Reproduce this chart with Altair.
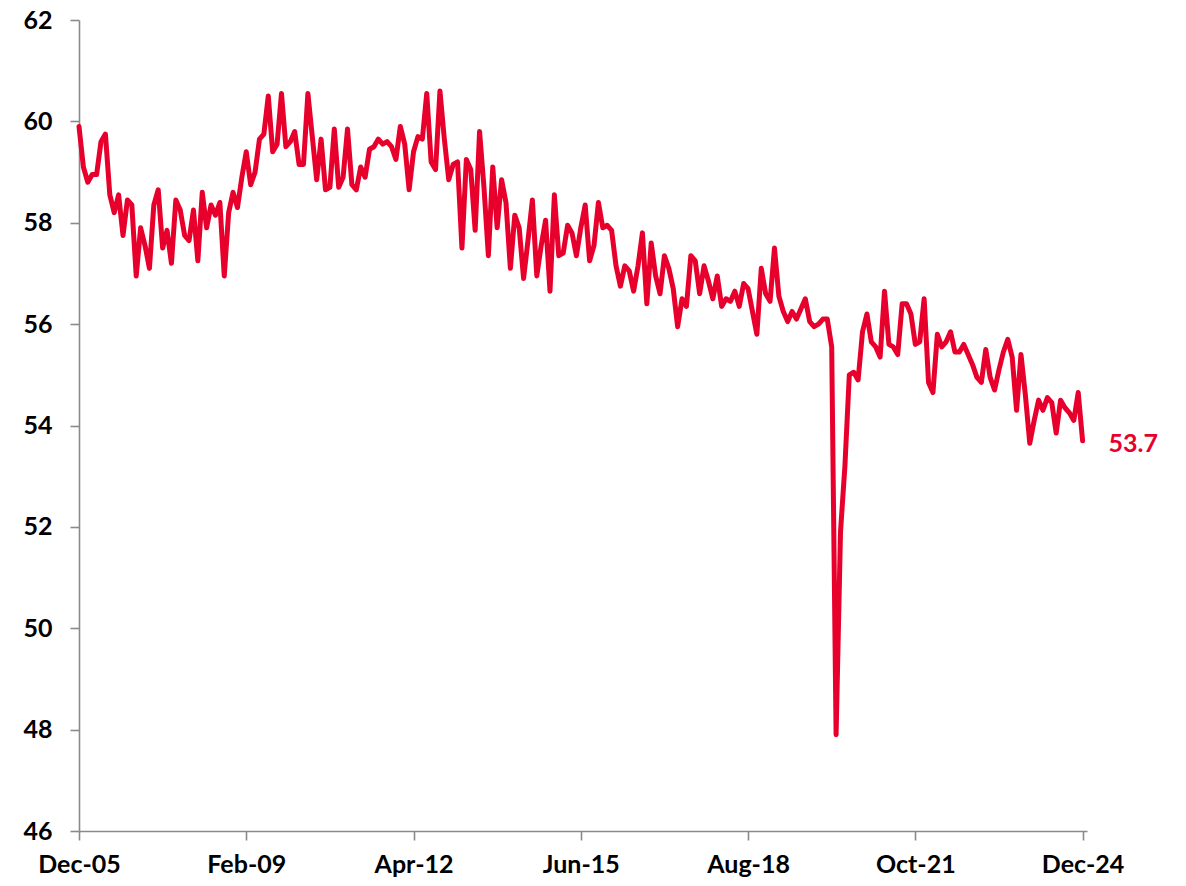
import altair as alt
import pandas as pd

# Monthly series, Dec-05 .. Dec-24 (229 months)
values = [
    59.9, 59.1, 58.8, 58.95, 58.95, 59.6, 59.75, 58.55, 58.2, 58.55,
    57.75, 58.45, 58.35, 56.95, 57.9, 57.55, 57.1, 58.35, 58.65, 57.5,
    57.85, 57.2, 58.45, 58.25, 57.75, 57.65, 58.25, 57.25, 58.6, 57.9,
    58.35, 58.15, 58.4, 56.95, 58.2, 58.6, 58.3, 58.9, 59.4, 58.75,
    59.0, 59.65, 59.75, 60.5, 59.4, 59.55, 60.55, 59.5, 59.6, 59.8,
    59.15, 59.15, 60.55, 59.7, 58.85, 59.65, 58.65, 58.7, 59.85, 58.7,
    58.9, 59.85, 58.75, 58.65, 59.1, 58.9, 59.45, 59.5, 59.65, 59.55,
    59.6, 59.5, 59.25, 59.9, 59.55, 58.65, 59.4, 59.7, 59.65, 60.55,
    59.2, 59.05, 60.6, 59.65, 58.85, 59.15, 59.2, 57.5, 59.25, 59.05,
    57.85, 59.8, 58.7, 57.35, 59.1, 57.9, 58.85, 58.4, 57.1, 58.15,
    57.9, 56.9, 57.65, 58.45, 56.95, 57.55, 58.05, 56.65, 58.55, 57.35,
    57.4, 57.95, 57.8, 57.35, 57.9, 58.35, 57.25, 57.55, 58.4, 57.9,
    57.95, 57.85, 57.15, 56.75, 57.15, 57.05, 56.65, 57.15, 57.8, 56.4,
    57.6, 56.95, 56.6, 57.35, 57.1, 56.7, 55.95, 56.5, 56.35, 57.35,
    57.25, 56.6, 57.15, 56.85, 56.5, 56.95, 56.35, 56.5, 56.45, 56.65,
    56.35, 56.8, 56.7, 56.25, 55.8, 57.1, 56.6, 56.45, 57.5, 56.55,
    56.25, 56.05, 56.25, 56.1, 56.3, 56.5, 56.05, 55.95, 56.0, 56.1,
    56.1, 55.55, 47.9, 51.9, 53.2, 55.0, 55.05, 54.9, 55.85, 56.2,
    55.65, 55.55, 55.35, 56.65, 55.6, 55.55, 55.4, 56.4, 56.4, 56.2,
    55.6, 55.65, 56.5, 54.85, 54.65, 55.8, 55.55, 55.65, 55.85, 55.45,
    55.45, 55.6, 55.4, 55.2, 54.95, 54.85, 55.5, 54.95, 54.7, 55.1,
    55.45, 55.7, 55.35, 54.3, 55.4, 54.6, 53.65, 54.1, 54.5, 54.3,
    54.55, 54.45, 53.85, 54.5, 54.35, 54.25, 54.1, 54.65, 53.7,
]

tick_idx = [0, 38, 76, 114, 152, 190, 228]
tick_labels = ["Dec-05", "Feb-09", "Apr-12", "Jun-15", "Aug-18", "Oct-21", "Dec-24"]
y_ticks = [46, 48, 50, 52, 54, 56, 58, 60, 62]

RED = "#E8002D"
AXIS = "#8a8a8a"
FONT = "Lato"
FS = 25

df = pd.DataFrame({"i": list(range(len(values))), "v": values})
last = pd.DataFrame({"i": [len(values) - 1], "v": [values[-1]],
                     "label": [f"{values[-1]:.1f}"]})

label_expr = ""
for k, lab in zip(tick_idx, tick_labels):
    label_expr += f"datum.value == {k} ? '{lab}' : "
label_expr += "''"

x_enc = alt.X(
    "i:Q",
    scale=alt.Scale(domain=[0, len(values)], nice=False, zero=False),
    axis=alt.Axis(values=tick_idx, labelExpr=label_expr, title=None, grid=False,
                  labelPadding=12, labelAlign="center", labelFlush=False),
)
y_enc = alt.Y(
    "v:Q",
    scale=alt.Scale(domain=[46, 62], nice=False, zero=False),
    axis=alt.Axis(values=y_ticks, title=None, grid=False, labelPadding=18,
                  labelFlush=False),
)

line = alt.Chart(df).mark_line(
    color=RED, strokeWidth=5, strokeJoin="round", strokeCap="round"
).encode(x=x_enc, y=y_enc)

text = alt.Chart(last).mark_text(
    align="left", baseline="middle", dx=26, dy=3, color=RED,
    font=FONT, fontSize=FS, fontWeight="bold"
).encode(x="i:Q", y="v:Q", text="label:N")

chart = (
    alt.layer(line, text)
    .properties(
        width=1008, height=811,
        autosize=alt.AutoSizeParams(type="none"),
        padding={"left": 71, "top": 12, "right": 90, "bottom": 47},
    )
    .configure_view(stroke=None)
    .configure_axis(
        domainColor=AXIS, domainWidth=1.6, tickColor=AXIS, tickWidth=1.6,
        tickSize=9, labelFont=FONT, labelFontSize=FS, labelFontWeight="bold",
        labelColor="#000000",
    )
)

chart.save("out.html", embed_options={"renderer": "svg", "actions": False})
